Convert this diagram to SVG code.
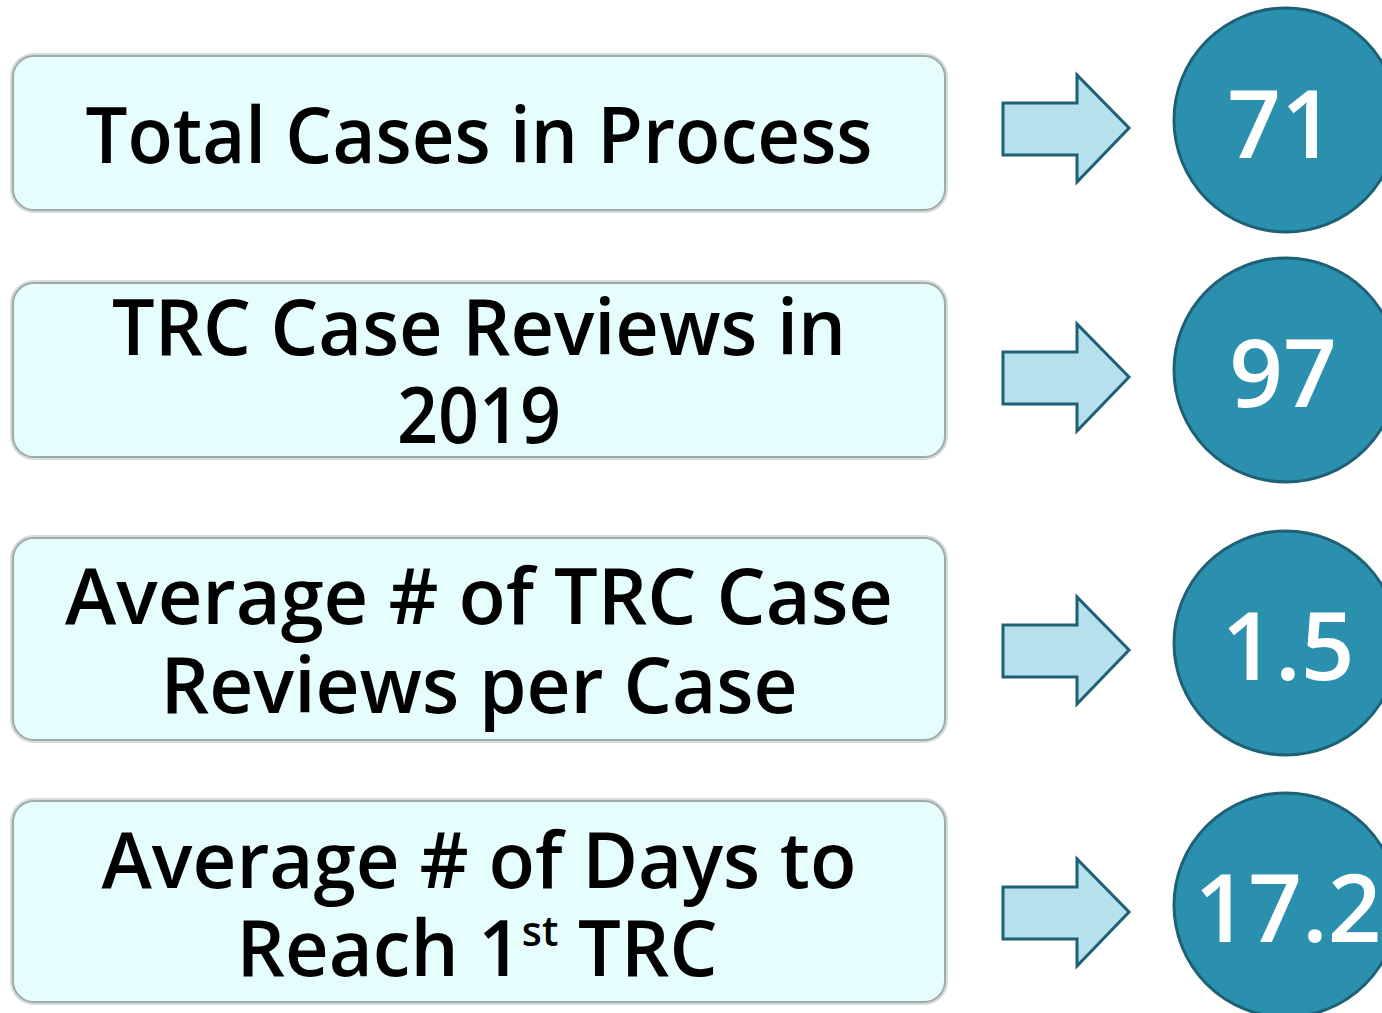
<svg xmlns="http://www.w3.org/2000/svg" width="1382" height="1013" viewBox="0 0 1382 1013">
<style>
.box{fill:#E6FDFD;stroke:#9FAAAA;stroke-width:2}
.halo{fill:none;stroke:#D4DCDC;stroke-width:4}
.lbl{font-family:"Open Sans","Liberation Sans",sans-serif;font-size:77px;font-weight:600;fill:#000;text-anchor:middle}
.arr{fill:#B5E0EC;stroke:#1E6075;stroke-width:3;stroke-linejoin:miter}
.circ{fill:#2B8FAE;stroke:#1E6075;stroke-width:3}
.num{font-family:"Open Sans","Liberation Sans",sans-serif;font-size:94px;font-weight:600;fill:#fff;text-anchor:middle}
</style>
<rect width="1382" height="1013" fill="#fff"/>
<g id="node-total">
<rect class="halo" x="12" y="55" width="934" height="156" rx="22"/>
<rect class="box" x="13" y="56" width="932" height="154" rx="21"/>
<text class="lbl" x="479" y="163" textLength="787" lengthAdjust="spacingAndGlyphs">Total Cases in Process</text>
</g>
<g id="node-reviews">
<rect class="halo" x="12" y="282" width="934" height="176" rx="22"/>
<rect class="box" x="13" y="283" width="932" height="174" rx="21"/>
<text class="lbl" x="479" y="355" textLength="734" lengthAdjust="spacingAndGlyphs">TRC Case Reviews in</text>
<text class="lbl" x="479" y="443" textLength="164" lengthAdjust="spacingAndGlyphs">2019</text>
</g>
<g id="node-avg-reviews">
<rect class="halo" x="12" y="537" width="934" height="204" rx="22"/>
<rect class="box" x="13" y="538" width="932" height="202" rx="21"/>
<text class="lbl" x="479" y="624" textLength="828" lengthAdjust="spacingAndGlyphs">Average # of TRC Case</text>
<text class="lbl" x="479" y="713" textLength="637" lengthAdjust="spacingAndGlyphs">Reviews per Case</text>
</g>
<g id="node-avg-days">
<rect class="halo" x="12" y="800" width="934" height="203" rx="22"/>
<rect class="box" x="13" y="801" width="932" height="201" rx="21"/>
<text class="lbl" x="479" y="888" textLength="755" lengthAdjust="spacingAndGlyphs">Average # of Days to</text>
<text class="lbl" x="477" y="976" textLength="481" lengthAdjust="spacingAndGlyphs">Reach 1<tspan font-size="42" dy="-30">st</tspan><tspan dy="30"> TRC</tspan></text>
</g>
<g id="connectors">
<path class="arr" d="M1003,103 H1077 V75 L1129,128 L1077,182 V155 H1003 Z"/>
<path class="arr" d="M1003,352 H1077 V324 L1129,377 L1077,431 V404 H1003 Z"/>
<path class="arr" d="M1003,625 H1077 V597 L1129,650 L1077,704 V677 H1003 Z"/>
<path class="arr" d="M1003,887 H1077 V859 L1129,912 L1077,966 V939 H1003 Z"/>
</g>
<g id="node-71">
<circle class="circ" cx="1286" cy="120" r="112"/>
<text class="num" x="1281" y="158">71</text>
</g>
<g id="node-97">
<circle class="circ" cx="1286" cy="370" r="112"/>
<text class="num" x="1283" y="407">97</text>
</g>
<g id="node-15">
<circle class="circ" cx="1286" cy="643" r="112"/>
<text class="num" x="1288" y="680">1.5</text>
</g>
<g id="node-172">
<circle class="circ" cx="1286" cy="905" r="112"/>
<text class="num" x="1288" y="942">17.2</text>
</g>
</svg>
